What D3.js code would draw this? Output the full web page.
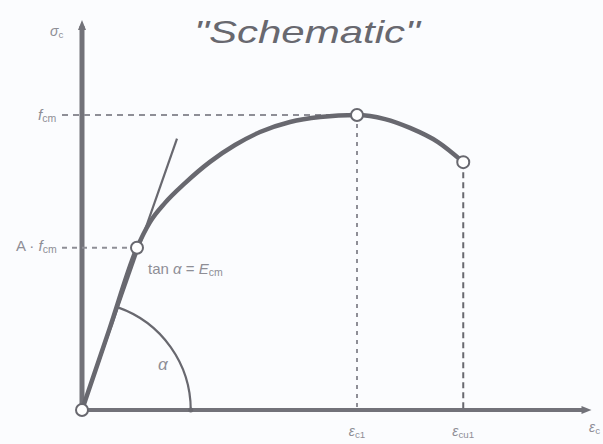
<!DOCTYPE html>
<html>
<head>
<meta charset="utf-8">
<script src="https://cdn.jsdelivr.net/npm/d3@7"></script>
<style>
  html, body { margin: 0; padding: 0; background: #fbfcfe; }
  svg { display: block; font-family: "Liberation Sans", Arial, sans-serif; }
</style>
</head>
<body>
<svg id="chart" width="603" height="444"></svg>
<script>
// Stress–strain curve (strain in ‰, stress as fraction of fcm)
const strain = [0, 0.22, 0.44, 0.544, 0.664, 0.824, 1.024, 1.224, 1.424, 1.664, 1.904, 2.20, 2.424, 2.624, 2.848, 3.05];
const stress = [0, 0.275, 0.55, 0.637, 0.702, 0.769, 0.841, 0.898, 0.942, 0.976, 0.993, 1.0, 0.986, 0.956, 0.908, 0.84];

// Marked points on the curve
const markNames  = ["origin", "A", "peak", "ultimate"];
const markStrain = [0, 0.44, 2.20, 3.05];
const markStress = [0, 0.55, 1.00, 0.84];

// Tangent modulus line and the angle arc
const tangentStrain = [0, 0.76];
const tangentStress = [0, 0.92];
const arcStrain = 0.87;

// Axis extents
const strainMax = 4.06;
const stressMax = 1.315;

const svg = d3.select("#chart");
const ink = "#68686f";
const light = "#8e8e96";

const x = d3.scaleLinear().domain([0, strainMax]).range([82, 589.5]);
const y = d3.scaleLinear().domain([0, stressMax]).range([410, 22]);

// Title
svg.append("text")
  .attr("x", 307).attr("y", 43)
  .attr("text-anchor", "middle")
  .attr("font-size", 32)
  .attr("font-style", "italic")
  .attr("fill", ink)
  .attr("textLength", 226)
  .attr("lengthAdjust", "spacingAndGlyphs")
  .text("\"Schematic\"");

// Axes (plain lines with arrow heads)
svg.append("line")
  .attr("x1", x(0)).attr("y1", y(0)).attr("x2", x(0)).attr("y2", y(stressMax) + 4)
  .attr("stroke", "#727279").attr("stroke-width", 5);
svg.append("path")
  .attr("d", `M${x(0) - 4},${y(stressMax) + 8} L${x(0)},${y(stressMax) - 2} L${x(0) + 4},${y(stressMax) + 8}Z`)
  .attr("fill", "#727279");

svg.append("line")
  .attr("x1", x(0)).attr("y1", y(0)).attr("x2", x(strainMax) - 4).attr("y2", y(0))
  .attr("stroke", "#727279").attr("stroke-width", 4);
svg.append("path")
  .attr("d", `M${x(strainMax) - 8},${y(0) - 4} L${x(strainMax) + 2},${y(0)} L${x(strainMax) - 8},${y(0) + 4}Z`)
  .attr("fill", "#727279");

// Reference lines
const refs = [
  { x1: x(0) - 20, y1: y(markStress[2]), x2: x(markStrain[2]), y2: y(markStress[2]), dash: "6,5", c: light, w: 2 },
  { x1: x(0) - 20, y1: y(markStress[1]), x2: x(markStrain[1]), y2: y(markStress[1]), dash: "5,5", c: light, w: 2 },
  { x1: x(markStrain[2]), y1: y(markStress[2]), x2: x(markStrain[2]), y2: y(0), dash: "4,5", c: light, w: 2 },
  { x1: x(markStrain[3]), y1: y(markStress[3]), x2: x(markStrain[3]), y2: y(0), dash: "6,4", c: ink, w: 2 }
];
svg.selectAll("line.ref").data(refs).join("line")
  .attr("class", "ref")
  .attr("x1", d => d.x1).attr("y1", d => d.y1)
  .attr("x2", d => d.x2).attr("y2", d => d.y2)
  .attr("stroke", d => d.c).attr("stroke-width", d => d.w)
  .attr("stroke-dasharray", d => d.dash);

// Tangent line
svg.append("line")
  .attr("x1", x(tangentStrain[0])).attr("y1", y(tangentStress[0]))
  .attr("x2", x(tangentStrain[1])).attr("y2", y(tangentStress[1]))
  .attr("stroke", ink).attr("stroke-width", 2.2);

// Angle arc
const ox = x(0), oy = y(0);
const ang = Math.atan2(y(tangentStress[1]) - oy, x(tangentStrain[1]) - ox);
const r = x(arcStrain) - ox;
const arcPath = d3.path();
arcPath.moveTo(ox + r, oy);
arcPath.arc(ox, oy, r, 0, ang, true);
svg.append("path")
  .attr("d", arcPath.toString())
  .attr("fill", "none").attr("stroke", ink).attr("stroke-width", 2.2);
svg.append("circle")
  .attr("cx", x(arcStrain)).attr("cy", oy).attr("r", 2.5).attr("fill", ink);

// Curve
const pts = strain.map((s, i) => [s, stress[i]]);
const line = d3.line().x(d => x(d[0])).y(d => y(d[1])).curve(d3.curveMonotoneX);
svg.append("path")
  .attr("d", line(pts))
  .attr("fill", "none").attr("stroke", ink).attr("stroke-width", 4.5)
  .attr("stroke-linecap", "round");

// Marked points
svg.selectAll("circle.mark").data(markNames).join("circle")
  .attr("class", "mark")
  .attr("cx", (d, i) => x(markStrain[i]))
  .attr("cy", (d, i) => y(markStress[i]))
  .attr("r", 6)
  .attr("fill", "#ffffff")
  .attr("stroke", ink).attr("stroke-width", 2);

// Labels
function label(px, py, parts, size, anchor) {
  const t = svg.append("text")
    .attr("x", px).attr("y", py)
    .attr("font-size", size)
    .attr("fill", light)
    .attr("text-anchor", anchor || "start");
  parts.forEach(p => {
    const ts = t.append("tspan").text(p.t);
    if (p.sub) ts.attr("font-size", size * 0.7).attr("dy", 2);
    if (p.it) ts.attr("font-style", "italic");
  });
  return t;
}

label(50, 36, [{ t: "σ", it: true }, { t: "c", sub: true }], 14);
label(38, 120, [{ t: "f", it: true }, { t: "cm", sub: true }], 15);
label(16, 251, [{ t: "A · " }, { t: "f", it: true }, { t: "cm", sub: true }], 15);
label(148, 274, [{ t: "tan " }, { t: "α", it: true }, { t: " = " }, { t: "E", it: true }, { t: "cm", sub: true }], 15);
label(158, 370, [{ t: "α", it: true }], 17);
label(x(markStrain[2]), 436, [{ t: "ε", it: true }, { t: "c1", sub: true }], 14, "middle");
label(x(markStrain[3]), 436, [{ t: "ε", it: true }, { t: "cu1", sub: true }], 14, "middle");
label(589, 432, [{ t: "ε", it: true }, { t: "c", sub: true }], 14);
</script>
</body>
</html>
